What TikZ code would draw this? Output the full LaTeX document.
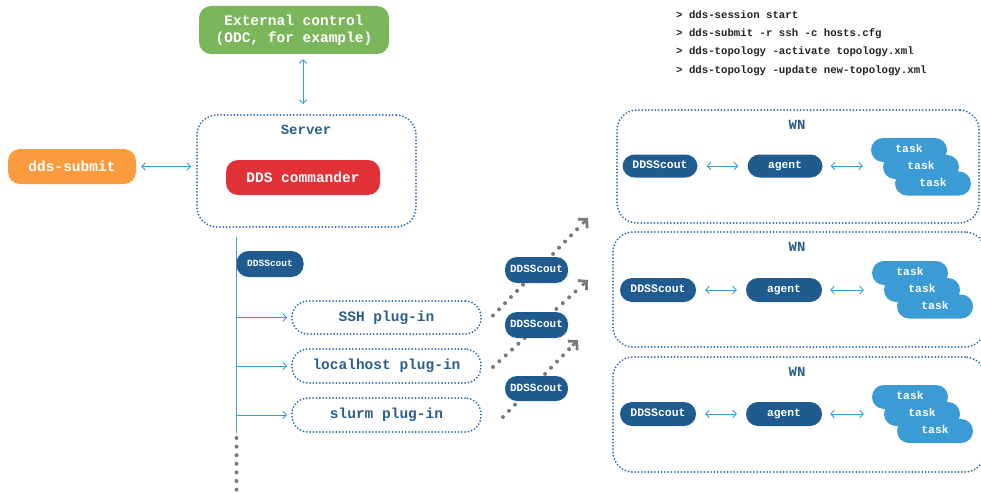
\documentclass[tikz,border=0pt]{standalone}
\usepackage{fontspec}
\setmonofont{Liberation Mono}
\usetikzlibrary{arrows.meta,calc,backgrounds}
\definecolor{cgreen}{HTML}{7CB65B}
\definecolor{corange}{HTML}{FC9B3D}
\definecolor{cred}{HTML}{E03237}
\definecolor{cnode}{HTML}{1F5B8F}
\definecolor{ctask}{HTML}{3A9BD5}
\definecolor{carrow}{HTML}{3C9AD8}
\definecolor{cdot}{HTML}{2E6AA6}
\definecolor{clbl}{HTML}{2B5E8C}
\definecolor{cgray}{HTML}{7A7A7A}
\definecolor{ccmd}{HTML}{222222}
\tikzset{
  fnt/.style={font=\ttfamily\bfseries\fontsize{#1}{17}\selectfont},
  box/.style={rounded corners=12pt, inner sep=0pt, text=white, fnt=14.5, align=center},
  scout/.style={rounded corners=12pt, inner sep=0pt, text=white, fill=cnode, text height=1.5ex, text depth=0.3ex},
  tasknode/.style={rounded corners=12pt, inner sep=0pt, text=white, fill=ctask, minimum width=76pt, minimum height=24pt, fnt=11.3, text height=1.5ex, text depth=0.3ex},
  dotbox/.style={draw=cdot, line width=2pt, dash pattern=on 0pt off 3.3pt, line cap=round, rounded corners=20pt, inner sep=0pt},
  plugbox/.style={dotbox, rounded corners=16pt, minimum width=189pt, minimum height=33pt, text=clbl, fnt=14.5},
  lbl/.style={text=clbl, fnt=14, inner sep=0pt},
  cmd/.style={text=ccmd, fnt=10.7, anchor=west, inner sep=0pt},
  arr/.style={draw=carrow, line width=0.9pt, -{Straight Barb[length=3.5pt,width=7.5pt]}},
  darr/.style={draw=carrow, line width=0.9pt, {Straight Barb[length=3.5pt,width=7.5pt]}-{Straight Barb[length=3.5pt,width=7.5pt]}},
  vline/.style={draw=carrow, line width=1.2pt},
  gdots/.style={draw=cgray, line width=4pt, dash pattern=on 0pt off 8.6pt, line cap=round},
  gtip/.style={draw=cgray, line width=2.8pt, -{Straight Barb[length=6pt,width=13pt]}},
}
\begin{document}
\begin{tikzpicture}[x=1pt,y=-1pt]
\clip (0,0) rectangle (981,492);
\useasboundingbox (0,0) rectangle (981,492);

% commands
\node[cmd] (cmd1) at (676,15) {> dds-session start};
\node[cmd] (cmd2) at (676,34) {> dds-submit -r ssh -c hosts.cfg};
\node[cmd] (cmd3) at (676,52) {> dds-topology -activate topology.xml};
\node[cmd] (cmd4) at (676,71) {> dds-topology -update new-topology.xml};

% top part
\node[box, fill=cgreen, minimum width=190pt, minimum height=48pt] (ext) at (294,30) {External control\\(ODC, for example)};
\node[dotbox, minimum width=219pt, minimum height=112pt] (server) at (306.5,171) {};
\node[lbl] (serverlbl) at (306,130) {Server};
\node[box, fill=cred, minimum width=154pt, minimum height=35pt] (cmdr) at (303,177.5) {DDS commander};
\node[box, fill=corange, minimum width=128pt, minimum height=35pt] (submit) at (72,166.5) {dds-submit};

\draw[darr] ($(ext.south)+(9,5)$) -- ($(server.north)+(-3.5,-10)$);
\draw[darr] ($(submit.east)+(5,0)$) -- ($(server.west)+(-5,-4.5)$);

% vertical line and plug-ins
\coordinate (vtop) at (236.5,237);
\coordinate (vbot) at (236.5,433);
\coordinate (vend) at (236.5,494);
\draw[vline] (vtop) -- (vbot);
\draw[gdots] ($(vbot)+(0,5)$) -- (vend);

\node[scout, minimum width=67pt, minimum height=26pt, fnt=9.5] (sc0) at (270,264) {DDSScout};

\node[plugbox] (ssh) at (386.5,317.5) {SSH plug-in};
\node[plugbox, minimum height=34pt] (local) at (386.5,366) {localhost plug-in};
\node[plugbox, minimum height=34pt] (slurm) at (386.5,415) {slurm plug-in};

\draw[arr] (ssh.west -| vtop) -- ([xshift=-4pt]ssh.west);
\draw[arr] (local.west -| vtop) -- ([xshift=-4pt]local.west);
\draw[arr] (slurm.west -| vtop) -- ([xshift=-4pt]slurm.west);

% gray dotted arrows
\coordinate (s1) at ($(ssh.east)+(11,-2)$);
\coordinate (s2) at ($(local.east)+(11,1)$);
\coordinate (s3) at ($(slurm.east)+(21,2)$);
\coordinate (t1) at (588,218);
\coordinate (t2) at (588,280);
\coordinate (t3) at (578,340);
\begin{scope}[on background layer]
\draw[gdots] (s1) -- ($(t1)!12pt!(s1)$);
\draw[gdots] (s2) -- ($(t2)!12pt!(s2)$);
\draw[gdots] (s3) -- ($(t3)!12pt!(s3)$);
\end{scope}
\draw[gtip] ($(t1)!8pt!(s1)$) -- (t1);
\draw[gtip] ($(t2)!8pt!(s2)$) -- (t2);
\draw[gtip] ($(t3)!8pt!(s3)$) -- (t3);

\node[scout, minimum width=63pt, minimum height=26pt, fnt=11] (sc1) at (536.5,270) {DDSScout};
\node[scout, minimum width=63pt, minimum height=26pt, fnt=11] (sc2) at (536.5,325) {DDSScout};
\node[scout, minimum width=63pt, minimum height=25pt, fnt=11] (sc3) at (536.5,388.5) {DDSScout};

% WN boxes
\node[dotbox, minimum width=362pt, minimum height=113pt] (wn1) at (798,166.5) {};
\node[dotbox, minimum width=372pt, minimum height=115pt] (wn2) at (799,289.5) {};
\node[dotbox, minimum width=372pt, minimum height=115pt] (wn3) at (799,414.5) {};
\node[lbl] (wn1l) at (797,125) {WN};
\node[lbl] (wn2l) at (797,247) {WN};
\node[lbl] (wn3l) at (797,372) {WN};

% WN1 content
\node[scout, minimum width=75pt, minimum height=23pt, fnt=11.5] (ws1) at (660,166) {DDSScout};
\node[scout, minimum width=75pt, minimum height=23pt, fnt=11.3] (ag1) at (785,166) {agent};
\node[tasknode] (ta1) at (909,150) {task};
\node[tasknode] (tb1) at (921,167) {task};
\node[tasknode] (tc1) at (933,183.5) {task};
\draw[darr] ($(ws1.east)+(9,0)$) -- ($(ag1.west)+(-9,0)$);
\draw[darr] ($(ag1.east)+(8,0)$) -- ($(ag1.east -| ta1.west)+(-8,0)$);

% WN2 content
\node[scout, minimum width=76pt, minimum height=24pt, fnt=11.5] (ws2) at (658,290) {DDSScout};
\node[scout, minimum width=76pt, minimum height=24pt, fnt=11.3] (ag2) at (784,290) {agent};
\node[tasknode] (ta2) at (910,273) {task};
\node[tasknode] (tb2) at (922,290) {task};
\node[tasknode] (tc2) at (935,306.5) {task};
\draw[darr] ($(ws2.east)+(9,0)$) -- ($(ag2.west)+(-9,0)$);
\draw[darr] ($(ag2.east)+(8,0)$) -- ($(ag2.east -| ta2.west)+(-8,0)$);

% WN3 content
\node[scout, minimum width=76pt, minimum height=24pt, fnt=11.5] (ws3) at (658,414) {DDSScout};
\node[scout, minimum width=76pt, minimum height=24pt, fnt=11.3] (ag3) at (784,414) {agent};
\node[tasknode] (ta3) at (910,397) {task};
\node[tasknode] (tb3) at (922,414) {task};
\node[tasknode] (tc3) at (935,431) {task};
\draw[darr] ($(ws3.east)+(9,0)$) -- ($(ag3.west)+(-9,0)$);
\draw[darr] ($(ag3.east)+(8,0)$) -- ($(ag3.east -| ta3.west)+(-8,0)$);
\end{tikzpicture}
\end{document}
